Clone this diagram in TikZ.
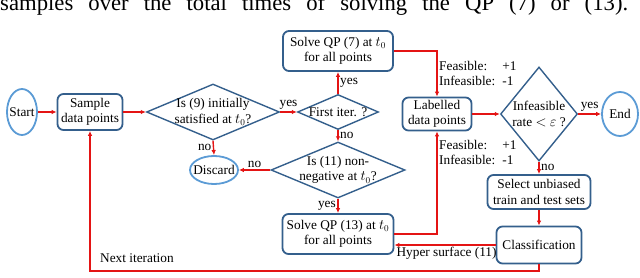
\documentclass[tikz,border=0pt]{standalone}
\usepackage{fontspec}
\setmainfont{Liberation Serif}
\usetikzlibrary{shapes.geometric,arrows.meta}
\definecolor{boxblue}{RGB}{52,95,140}
\definecolor{ellblue}{RGB}{91,155,213}
\definecolor{arrred}{RGB}{228,20,20}
\begin{document}
\begin{tikzpicture}[x=1pt,y=-1pt,font=\fontsize{13.3}{15.5}\selectfont,>={Latex[length=5pt,width=4.5pt]},
  procbox/.style={draw=boxblue,line width=1.8pt,rounded corners=6pt,align=center,inner sep=1pt},
  decision/.style={diamond,draw=boxblue,line width=1.4pt,align=center,inner sep=-4pt,aspect=2.4},
  terminal/.style={ellipse,draw=ellblue,line width=1.8pt,inner sep=-4pt},
  flow/.style={->,arrred,line width=1.4pt},
  lbl/.style={inner sep=1.5pt,text=black}]
  \useasboundingbox (0,0) rectangle (640,278);
  \node[anchor=base west,inner sep=0pt,font=\fontsize{22.7}{26}\selectfont] (caption) at (0,11)
    {\makebox[628pt][s]{samples over the total times of solving the QP (7) or (13).}};
  \node[terminal,minimum width=30,minimum height=46] (start) at (22,112) {Start};
  \node[procbox,minimum width=65,minimum height=36] (sample) at (90,112) {Sample\\data points};
  \node[decision,minimum width=133,minimum height=56] (init) at (213,112) {Is (9) initially\\satisfied at $t_0$?};
  \node[decision,minimum width=81,minimum height=35] (first) at (338,112) {First iter. ?};
  \node[procbox,minimum width=110,minimum height=40] (qpseven) at (338,51) {Solve QP (7) at $t_0$\\for all points};
  \node[decision,minimum width=134,minimum height=56] (nonneg) at (338,170) {Is (11) non-\\negative at $t_0$?};
  \node[terminal,minimum width=48,minimum height=28] (discard) at (214,170) {Discard};
  \node[procbox,minimum width=111,minimum height=40] (qpthirteen) at (338,234) {Solve QP (13) at $t_0$\\for all points};
  \node[procbox,minimum width=69,minimum height=33] (labelled) at (437,114) {Labelled\\data points};
  \node[decision,aspect=0.82,minimum width=77,minimum height=94] (rate) at (539,114) {Infeasible\\rate $<$ $\varepsilon$ ?};
  \node[terminal,minimum width=36,minimum height=44] (stop) at (620,114) {End};
  \node[procbox,minimum width=103,minimum height=34] (select) at (539,192) {Select unbiased\\train and test sets};
  \node[procbox,minimum width=85,minimum height=37] (classif) at (539,245) {Classification};
  \node[anchor=north west,inner sep=0pt] (feasup) at (439,59)
    {\begin{tabular}{@{}l@{\hspace{7pt}}l@{}}Feasible: & +1\\Infeasible: & -1\end{tabular}};
  \node[anchor=north west,inner sep=0pt] (feasdown) at (439,138)
    {\begin{tabular}{@{}l@{\hspace{7pt}}l@{}}Feasible: & +1\\Infeasible: & -1\end{tabular}};
  \node[anchor=base west,inner sep=0pt] (nextit) at (100,262) {Next iteration};
  \coordinate (loop) at (90,271);
  \draw[flow] (start.east) -- (sample.west);
  \draw[flow] (sample.east) -- (init.west);
  \draw[flow] (init.east) -- node[above,lbl] (yfirst) {yes} (first.west);
  \draw[flow] (first.north) -- node[right,lbl] (yseven) {yes} (qpseven.south);
  \draw[flow] (first.south) -- node[right,lbl] (nnonneg) {no} (nonneg.north);
  \draw[flow] (init.south) -- node[left,lbl] (ninit) {no} (discard.north);
  \draw[flow] (nonneg.west) -- node[above,lbl] (ndiscard) {no} (discard.east);
  \draw[flow] (nonneg.south) -- node[left,lbl] (ythirteen) {yes} (qpthirteen.north);
  \draw[flow] (qpseven.east) -| (labelled.north);
  \draw[flow] (qpthirteen.east) -| (labelled.south);
  \draw[flow] (labelled.east) -- (rate.west);
  \draw[flow] (rate.east) -- node[above,lbl] (yend) {yes} (stop.west);
  \draw[flow] (rate.south) -- node[right,lbl] (nselect) {no} (select.north);
  \draw[flow] (select.south) -- (classif.north);
  \draw[flow] (classif.west) -- node[pos=1,below right,lbl] (hyper) {Hyper surface (11)} (classif.west -| qpthirteen.east);
  \draw[flow] (classif.south) |- (loop) -- (sample.south);
\end{tikzpicture}
\end{document}
